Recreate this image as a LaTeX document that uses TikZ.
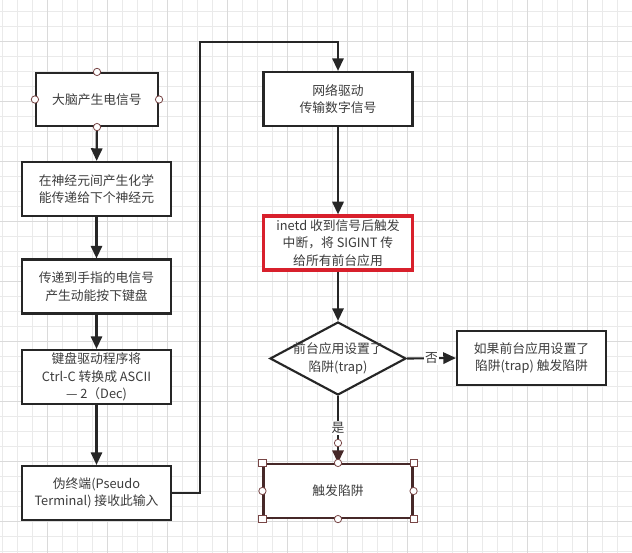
\documentclass[tikz,border=0pt]{standalone}
\usepackage{fontspec}
\usepackage{tikz}
\usetikzlibrary{positioning,calc}
\usetikzlibrary{arrows.meta,shapes.geometric}
\newfontfamily\cjk{Noto Sans CJK SC}
\definecolor{GridMinor}{RGB}{234,234,234}
\definecolor{GridMajor}{RGB}{218,218,218}
\definecolor{InkGray}{RGB}{60,60,60}
\definecolor{AlertRed}{RGB}{216,32,44}
\definecolor{HandleBrown}{RGB}{120,70,70}
\definecolor{PickBrown}{RGB}{70,40,40}
\tikzset{
	proc/.style={draw=black!85,line width=1.6pt,fill=white,minimum width=111.75pt,minimum height=40.5pt,
		inner sep=1pt,align=center,text=InkGray,font=\cjk\fontsize{9.6}{13.2}\selectfont},
	alert/.style={proc,draw=AlertRed,line width=2.4pt},
	picked/.style={proc,draw=PickBrown},
	decision/.style={diamond,draw=black!85,line width=1.6pt,fill=white,minimum width=102pt,minimum height=54.75pt,inner sep=0pt},
	txt/.style={align=center,text=InkGray,font=\cjk\fontsize{9.6}{13.2}\selectfont,inner sep=1pt},
	tag/.style={fill=white,text=InkGray,font=\cjk\fontsize{9.6}{12}\selectfont,inner sep=1pt},
	flow/.style={draw=black!85,line width=1.6pt,-{Triangle[length=9.5pt,width=8.5pt]}},
	hdot/.style={circle,draw=HandleBrown,fill=white,line width=0.6pt,minimum size=5.5pt,inner sep=0pt},
	hsq/.style={rectangle,draw=HandleBrown,fill=white,line width=0.6pt,minimum size=5.5pt,inner sep=0pt},
	gridminor/.style={draw=GridMinor,line width=0.6pt},
	gridmajor/.style={draw=GridMajor,line width=0.7pt},
}

\begin{document}
\begin{tikzpicture}[x=0.75pt,y=-0.75pt]
	\useasboundingbox[fill=white] (0,0) rectangle (632,553);
	\foreach \gx in {2,17,...,632} \draw[gridminor] (\gx,0) -- (\gx,553);
	\foreach \gy in {11.7,26.7,...,553} \draw[gridminor] (0,\gy) -- (632,\gy);
	\foreach \gx in {47,107,...,632} \draw[gridmajor] (\gx,0) -- (\gx,553);
	\foreach \gy in {41.7,101.7,...,553} \draw[gridmajor] (0,\gy) -- (632,\gy);

	\node[proc,minimum width=91.5pt,minimum height=39.75pt] (brain) at (97,99.5) {大脑产生电信号};
	\node[proc] (neuron) at (96.5,189) {在神经元间产生化学\\能传递给下个神经元};
	\node[proc] (finger) at (96.5,286.5) {传递到手指的电信号\\产生动能按下键盘};
	\node[proc] (kbd) at (96.5,377) {键盘驱动程序将\\Ctrl-C 转换成 ASCII\\— 2（Dec)};
	\node[proc] (pty) at (96.5,493) {伪终端(Pseudo\\Terminal) 接收此输入};
	\node[proc] (net) at (338,99) {网络驱动\\传输数字信号};
	\node[alert] (inetd) at (338,243) {inetd 收到信号后触发\\中断，将 SIGINT 传\\给所有前台应用};
	\node[decision] (trapq) at (338,358.5) {};
	\node[txt] (trapqtext) at (338,358.5) {前台应用设置了\\陷阱(trap)};
	\node[proc] (fire) at (531.5,358) {如果前台应用设置了\\陷阱(trap) 触发陷阱};
	\node[picked] (hit) at (338,491) {触发陷阱};

	\draw[flow] (brain) -- (neuron);
	\draw[flow] (neuron) -- (finger);
	\draw[flow] (finger) -- (kbd);
	\draw[flow] (kbd) -- (pty);
	\coordinate (loopup) at (200,42);
	\draw[flow] (pty.east) -| (loopup) -| (net.north);
	\draw[flow] (net) -- (inetd);
	\draw[flow] (inetd) -- (trapq.north);
	\draw[flow] (trapq.east) -- (fire.west) node[tag,pos=0.5] (no) {否};
	\draw[flow,-{Triangle[length=9.5pt,width=8.5pt,color=PickBrown]}] (trapq.south) -- (hit.north) node[tag,pos=0.48] (yes) {是};

	\node[hdot] (b1) at (brain.north) {};
	\node[hdot] (b2) at (brain.west) {};
	\node[hdot] (b3) at (brain.east) {};
	\node[hdot] (b4) at (brain.south) {};
	\node[hdot] (tipdot) at (338,443) {};
	\node[hsq] (h1) at (hit.north west) {};
	\node[hsq] (h2) at (hit.north east) {};
	\node[hsq] (h3) at (hit.south west) {};
	\node[hsq] (h4) at (hit.south east) {};
	\node[hdot] (h5) at (hit.north) {};
	\node[hdot] (h6) at (hit.south) {};
	\node[hdot] (h7) at (hit.west) {};
	\node[hdot] (h8) at (hit.east) {};
\end{tikzpicture}
\end{document}
